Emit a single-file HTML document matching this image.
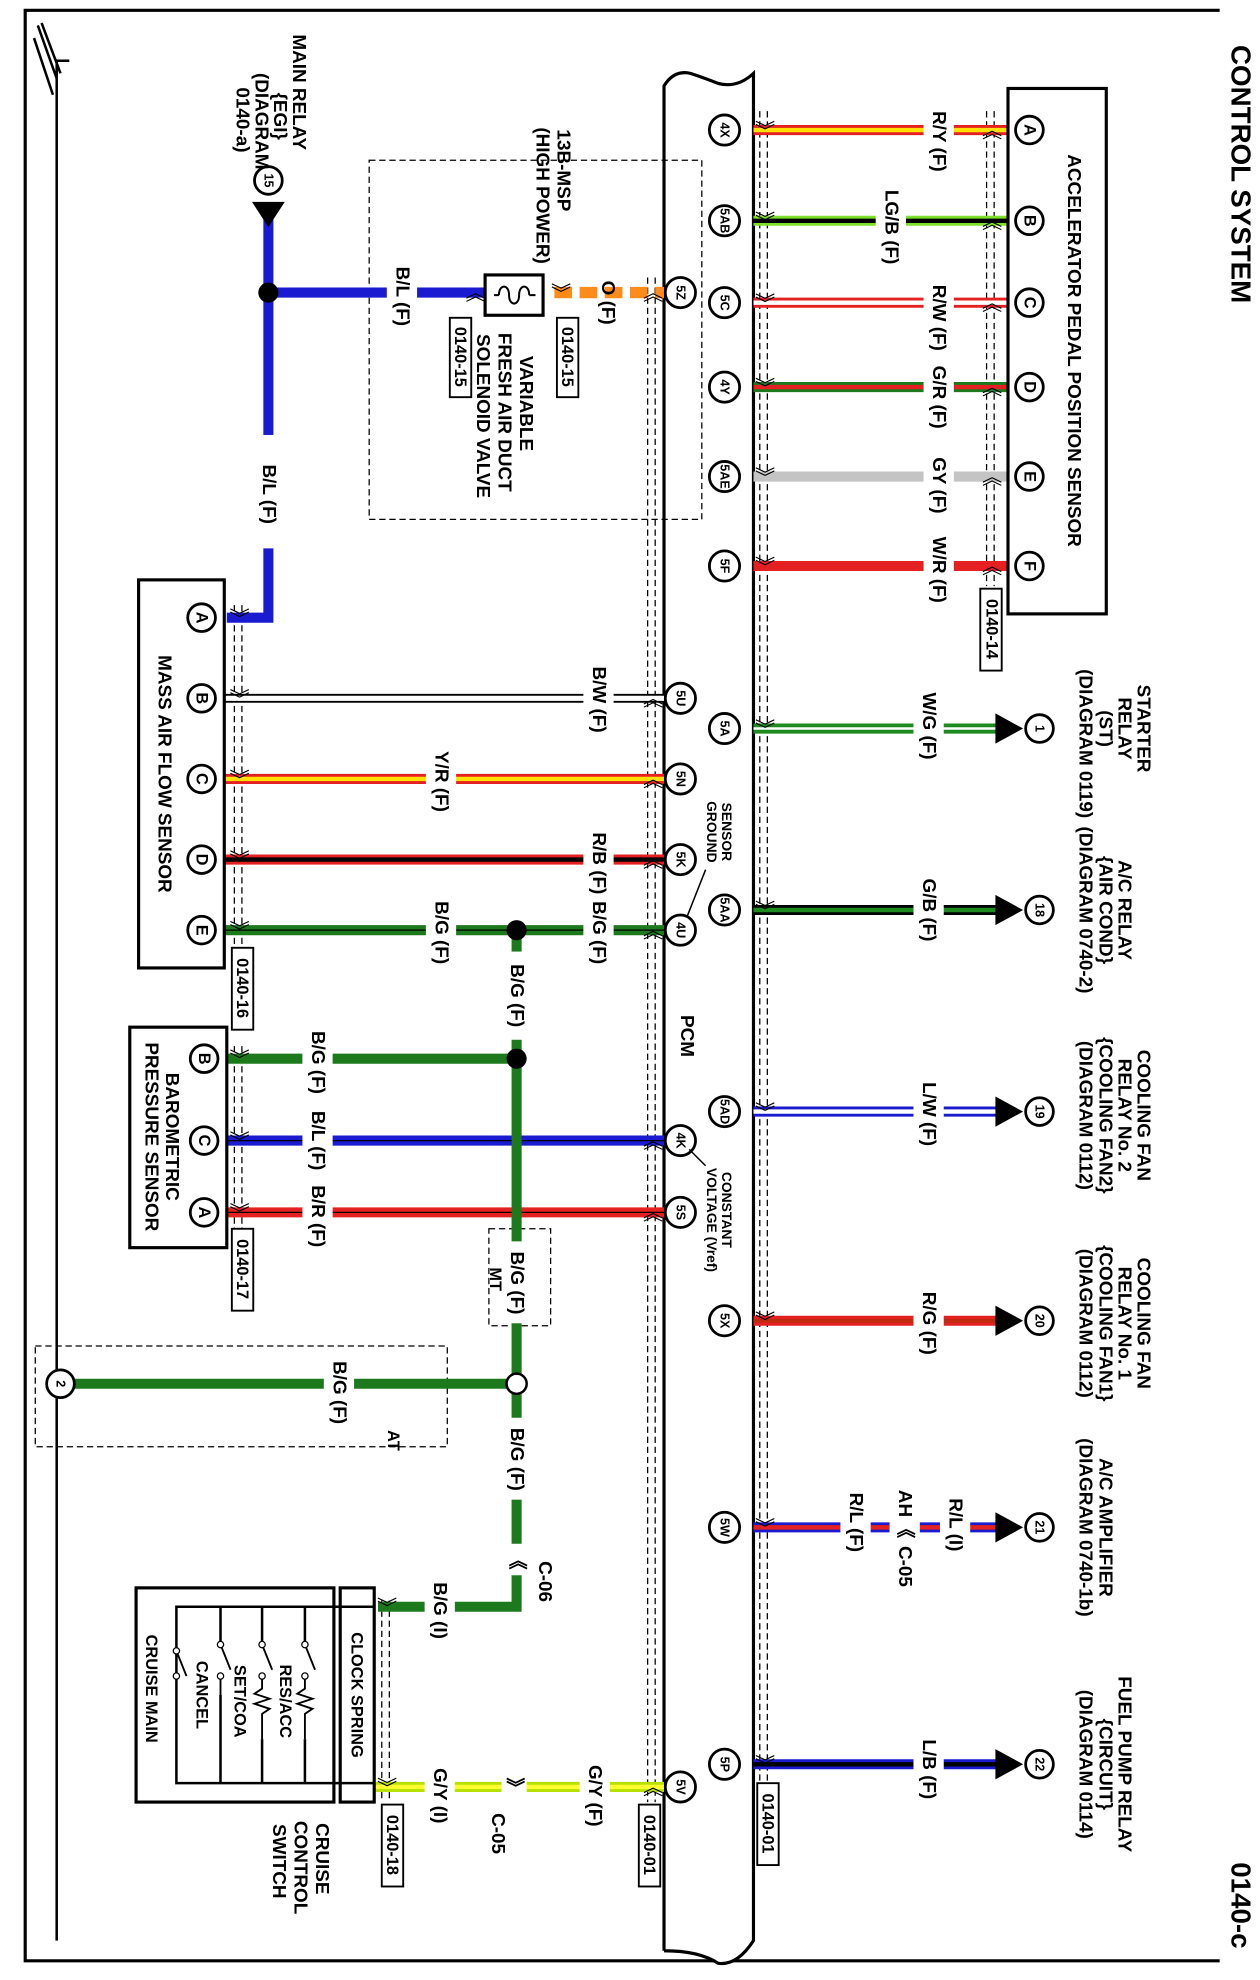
<!DOCTYPE html>
<html><head><meta charset="utf-8"><style>
html,body{margin:0;padding:0;background:#fff}
svg{display:block}
text{font-family:"Liberation Sans",Arial,sans-serif;font-weight:bold;fill:#000}
.t{font-size:15px;text-anchor:middle;dominant-baseline:central}
.s{font-size:13px;text-anchor:middle;dominant-baseline:central}
.p{font-size:10px;text-anchor:middle;dominant-baseline:central}
.pc{fill:#fff;stroke:#000;stroke-width:2.2}
.dash{fill:none;stroke:#000;stroke-width:1;stroke-dasharray:5,3}
.ch{font-size:16px;text-anchor:middle;dominant-baseline:central;font-weight:normal}
</style></head><body>
<svg width="1260" height="1980" viewBox="0 0 1000 1571" xmlns="http://www.w3.org/2000/svg">
<rect x="0" y="0" width="1000" height="1571" fill="#fff"/>
<path d="M968 8 H20 V1556 H968" fill="none" stroke="#000" stroke-width="2.5"/>
<text transform="translate(985,138) rotate(90)" style="font-size:22px;text-anchor:middle;dominant-baseline:central">CONTROL SYSTEM</text>
<text transform="translate(985,1512) rotate(90)" style="font-size:22px;text-anchor:middle;dominant-baseline:central">0140-c</text>
<path d="M45 1540 V48 H55" fill="none" stroke="#000" stroke-width="2"/>
<path d="M30 20 L45 62 M27 30 L42 75 M33 18 L48 58" fill="none" stroke="#000" stroke-width="2"/>

<path d="M527 1548 V68 Q535 55 548 58 Q560 62 570 66 Q585 70 598 58 V1540 Q585 1560 570 1558 Q555 1548 527 1548" fill="#fff" stroke="#000" stroke-width="2.5"/>
<text transform="translate(545,822) rotate(90)" class="t">PCM</text>
<path d="M603 88 V1430 M609 88 V1430" class="dash"/>
<path d="M783 88 V465 M789 88 V465" class="dash"/>
<path d="M514 220 V1430 M520 220 V1430" class="dash"/>
<path d="M186 480 V750 M192 480 V750" class="dash"/>
<path d="M186 830 V975 M192 830 V975" class="dash"/>
<path d="M303 1270 V1430 M309 1270 V1430" class="dash"/>

<rect x="293" y="127" width="264" height="285" class="dash"/>
<rect x="28" y="1068" width="327" height="80" class="dash"/>
<rect x="388" y="975" width="49" height="77" class="dash"/>

<g stroke-linecap="butt">
<line x1="598" y1="103" x2="805" y2="103" stroke="#e52020" stroke-width="8"/><line x1="598" y1="103" x2="805" y2="103" stroke="#ffe000" stroke-width="3.5"/>
<line x1="598" y1="175" x2="805" y2="175" stroke="#7de02a" stroke-width="8"/><line x1="598" y1="175" x2="805" y2="175" stroke="#000" stroke-width="3.5"/>
<line x1="598" y1="240" x2="805" y2="240" stroke="#e52020" stroke-width="8"/><line x1="598" y1="240" x2="805" y2="240" stroke="#fff" stroke-width="3.5"/>
<line x1="598" y1="307" x2="805" y2="307" stroke="#1c7a1c" stroke-width="8"/><line x1="598" y1="307" x2="805" y2="307" stroke="#e52020" stroke-width="3.5"/>
<line x1="598" y1="378" x2="805" y2="378" stroke="#c4c4c4" stroke-width="8"/>
<line x1="598" y1="449" x2="805" y2="449" stroke="#e52020" stroke-width="8"/>
<line x1="598" y1="578" x2="795" y2="578" stroke="#1c8a1c" stroke-width="8"/><line x1="598" y1="578" x2="795" y2="578" stroke="#fff" stroke-width="2"/>
<line x1="598" y1="722" x2="795" y2="722" stroke="#000" stroke-width="8"/><line x1="598" y1="722" x2="795" y2="722" stroke="#1c8a1c" stroke-width="3.5"/>
<line x1="598" y1="882" x2="795" y2="882" stroke="#1a1ad0" stroke-width="8"/><line x1="598" y1="882" x2="795" y2="882" stroke="#fff" stroke-width="3.5"/>
<line x1="598" y1="1048" x2="795" y2="1048" stroke="#e52020" stroke-width="8"/><line x1="598" y1="1048" x2="795" y2="1048" stroke="#c02a10" stroke-width="3"/>
<line x1="598" y1="1212" x2="795" y2="1212" stroke="#1a1ad0" stroke-width="8"/><line x1="598" y1="1212" x2="795" y2="1212" stroke="#e52020" stroke-width="3.5"/>
<line x1="598" y1="1400" x2="795" y2="1400" stroke="#1a1ad0" stroke-width="8"/><line x1="598" y1="1400" x2="795" y2="1400" stroke="#000" stroke-width="3.5"/>
</g>
<g fill="#fff">
<rect x="733" y="82" width="24" height="62"/><rect x="695" y="145" width="24" height="70"/>
<rect x="733" y="222" width="24" height="60"/><rect x="733" y="285" width="24" height="60"/>
<rect x="733" y="355" width="24" height="60"/><rect x="733" y="420" width="24" height="62"/>
<rect x="725" y="545" width="24" height="62"/><rect x="725" y="692" width="24" height="62"/>
<rect x="725" y="852" width="24" height="62"/><rect x="725" y="1018" width="24" height="62"/>
<rect x="667" y="1175" width="24" height="75"/><rect x="706" y="1175" width="24" height="80"/><rect x="746" y="1175" width="24" height="75"/>
<rect x="725" y="1370" width="24" height="62"/>
</g>
<text transform="translate(745,112) rotate(90)" class="t">R/Y (F)</text>
<text transform="translate(707,180) rotate(90)" class="t">LG/B (F)</text>
<text transform="translate(745,252) rotate(90)" class="t">R/W (F)</text>
<text transform="translate(745,315) rotate(90)" class="t">G/R (F)</text>
<text transform="translate(745,385) rotate(90)" class="t">GY (F)</text>
<text transform="translate(745,452) rotate(90)" class="t">W/R (F)</text>
<text transform="translate(737,576) rotate(90)" class="t">W/G (F)</text>
<text transform="translate(737,722) rotate(90)" class="t">G/B (F)</text>
<text transform="translate(737,884) rotate(90)" class="t">L/W (F)</text>
<text transform="translate(737,1050) rotate(90)" class="t">R/G (F)</text>
<text transform="translate(758,1210) rotate(90)" class="t">R/L (I)</text>
<text transform="translate(718,1193) rotate(90)" class="t">AH</text>
<text transform="translate(718,1213) rotate(90)" class="t">《</text>
<text transform="translate(718,1243) rotate(90)" class="t">C-05</text>
<text transform="translate(679,1208) rotate(90)" class="t">R/L (F)</text>
<text transform="translate(737,1404) rotate(90)" class="t">L/B (F)</text>

<rect x="800" y="70" width="78" height="417" fill="#fff" stroke="#000" stroke-width="2.5"/>
<text transform="translate(852,278) rotate(90)" class="t">ACCELERATOR PEDAL POSITION SENSOR</text>
<g>
<circle cx="817" cy="103" r="11" class="pc"/><text transform="translate(817,103) rotate(90)" class="s">A</text>
<circle cx="817" cy="175" r="11" class="pc"/><text transform="translate(817,175) rotate(90)" class="s">B</text>
<circle cx="817" cy="240" r="11" class="pc"/><text transform="translate(817,240) rotate(90)" class="s">C</text>
<circle cx="817" cy="307" r="11" class="pc"/><text transform="translate(817,307) rotate(90)" class="s">D</text>
<circle cx="817" cy="378" r="11" class="pc"/><text transform="translate(817,378) rotate(90)" class="s">E</text>
<circle cx="817" cy="449" r="11" class="pc"/><text transform="translate(817,449) rotate(90)" class="s">F</text>
</g>
<rect x="778" y="467" width="17" height="65" fill="#fff" stroke="#000" stroke-width="1.5"/>
<text transform="translate(787,499) rotate(90)" class="s">0140-14</text>

<g>
<path d="M790 566 L812 578 L790 590 Z"/><circle cx="825" cy="578" r="11" class="pc"/><text transform="translate(825,578) rotate(90)" class="p">1</text>
<path d="M790 710 L812 722 L790 734 Z"/><circle cx="825" cy="722" r="11" class="pc"/><text transform="translate(825,722) rotate(90)" class="p">18</text>
<path d="M790 870 L812 882 L790 894 Z"/><circle cx="825" cy="882" r="11" class="pc"/><text transform="translate(825,882) rotate(90)" class="p">19</text>
<path d="M790 1036 L812 1048 L790 1060 Z"/><circle cx="825" cy="1048" r="11" class="pc"/><text transform="translate(825,1048) rotate(90)" class="p">20</text>
<path d="M790 1200 L812 1212 L790 1224 Z"/><circle cx="825" cy="1212" r="11" class="pc"/><text transform="translate(825,1212) rotate(90)" class="p">21</text>
<path d="M790 1388 L812 1400 L790 1412 Z"/><circle cx="825" cy="1400" r="11" class="pc"/><text transform="translate(825,1400) rotate(90)" class="p">22</text>
</g>
<text transform="translate(907,578) rotate(90)" class="t">STARTER</text>
<text transform="translate(892,578) rotate(90)" class="t">RELAY</text>
<text transform="translate(877,578) rotate(90)" class="t">(ST)</text>
<text transform="translate(861,590) rotate(90)" class="t">(DIAGRAM 0119)</text>
<text transform="translate(892,722) rotate(90)" class="t">A/C RELAY</text>
<text transform="translate(877,722) rotate(90)" class="t">{AIR COND}</text>
<text transform="translate(861,722) rotate(90)" class="t">(DIAGRAM 0740-2)</text>
<text transform="translate(907,885) rotate(90)" class="t">COOLING FAN</text>
<text transform="translate(892,885) rotate(90)" class="t">RELAY No. 2</text>
<text transform="translate(877,885) rotate(90)" class="t">{COOLING FAN2}</text>
<text transform="translate(861,885) rotate(90)" class="t">(DIAGRAM 0112)</text>
<text transform="translate(907,1050) rotate(90)" class="t">COOLING FAN</text>
<text transform="translate(892,1050) rotate(90)" class="t">RELAY No. 1</text>
<text transform="translate(877,1050) rotate(90)" class="t">{COOLING FAN1}</text>
<text transform="translate(861,1050) rotate(90)" class="t">(DIAGRAM 0112)</text>
<text transform="translate(877,1212) rotate(90)" class="t">A/C AMPLIFIER</text>
<text transform="translate(861,1212) rotate(90)" class="t">(DIAGRAM 0740-1b)</text>
<text transform="translate(892,1400) rotate(90)" class="t">FUEL PUMP RELAY</text>
<text transform="translate(877,1400) rotate(90)" class="t">{CIRCUIT}</text>
<text transform="translate(861,1400) rotate(90)" class="t">(DIAGRAM 0114)</text>

<g stroke-linecap="butt">
<line x1="440" y1="232" x2="527" y2="232" stroke="#ff8c1a" stroke-width="9" stroke-dasharray="14,6"/>
<path d="M213 172 V490 H180" fill="none" stroke="#1a1ad0" stroke-width="8"/>
<line x1="213" y1="232" x2="385" y2="232" stroke="#1a1ad0" stroke-width="8"/>
<line x1="178" y1="554" x2="527" y2="554" stroke="#000" stroke-width="7"/><line x1="178" y1="554" x2="527" y2="554" stroke="#fff" stroke-width="4"/>
<line x1="178" y1="618" x2="527" y2="618" stroke="#e52020" stroke-width="8"/><line x1="178" y1="618" x2="527" y2="618" stroke="#ffe000" stroke-width="3.5"/>
<line x1="178" y1="682" x2="527" y2="682" stroke="#e52020" stroke-width="8"/><line x1="178" y1="682" x2="527" y2="682" stroke="#000" stroke-width="3.5"/>
<line x1="178" y1="738" x2="527" y2="738" stroke="#1c7a1c" stroke-width="8"/><line x1="178" y1="738" x2="527" y2="738" stroke="#000" stroke-width="1"/>
<line x1="180" y1="840" x2="410" y2="840" stroke="#1c7a1c" stroke-width="8"/>
<line x1="180" y1="905" x2="527" y2="905" stroke="#1a1ad0" stroke-width="8"/><line x1="180" y1="905" x2="527" y2="905" stroke="#000" stroke-width="1"/>
<line x1="180" y1="962" x2="527" y2="962" stroke="#e52020" stroke-width="8"/><line x1="180" y1="962" x2="527" y2="962" stroke="#000" stroke-width="1"/>
<path d="M410 738 V1275 H300" fill="none" stroke="#1c7a1c" stroke-width="8"/>
<line x1="48" y1="1098" x2="410" y2="1098" stroke="#1c7a1c" stroke-width="8"/>
<line x1="297" y1="1418" x2="527" y2="1418" stroke="#b5e000" stroke-width="8"/><line x1="297" y1="1418" x2="527" y2="1418" stroke="#ffff30" stroke-width="3.5"/>
</g>
<g fill="#fff">
<rect x="307" y="205" width="24" height="60"/><rect x="201" y="345" width="24" height="90"/>
<rect x="463" y="525" width="24" height="60"/><rect x="338" y="590" width="24" height="60"/>
<rect x="463" y="655" width="24" height="60"/><rect x="338" y="710" width="24" height="60"/>
<rect x="463" y="710" width="24" height="60"/><rect x="398" y="755" width="24" height="70"/>
<rect x="240" y="812" width="24" height="60"/><rect x="240" y="875" width="24" height="60"/>
<rect x="240" y="935" width="24" height="60"/><rect x="398" y="985" width="24" height="65"/>
<rect x="257" y="1070" width="24" height="60"/><rect x="398" y="1125" width="24" height="65"/>
<rect x="337" y="1247" width="24" height="60"/><rect x="337" y="1390" width="24" height="60"/>
<rect x="460" y="1390" width="24" height="60"/><rect x="398" y="1405" width="20" height="25"/>
<rect x="400" y="1225" width="20" height="25"/>
</g>
<text transform="translate(319,235) rotate(90)" class="t">B/L (F)</text>
<text transform="translate(213,392) rotate(90)" class="t">B/L (F)</text>
<text transform="translate(475,555) rotate(90)" class="t">B/W (F)</text>
<text transform="translate(350,620) rotate(90)" class="t">Y/R (F)</text>
<text transform="translate(475,685) rotate(90)" class="t">R/B (F)</text>
<text transform="translate(350,740) rotate(90)" class="t">B/G (F)</text>
<text transform="translate(475,740) rotate(90)" class="t">B/G (F)</text>
<text transform="translate(410,790) rotate(90)" class="t">B/G (F)</text>
<text transform="translate(252,843) rotate(90)" class="t">B/G (F)</text>
<text transform="translate(252,905) rotate(90)" class="t">B/L (F)</text>
<text transform="translate(252,965) rotate(90)" class="t">B/R (F)</text>
<text transform="translate(410,1018) rotate(90)" class="t">B/G (F)</text>
<text transform="translate(393,1015) rotate(90)" class="s">MT</text>
<text transform="translate(269,1105) rotate(90)" class="t">B/G (F)</text>
<text transform="translate(312,1143) rotate(90)" class="s">AT</text>
<text transform="translate(410,1158) rotate(90)" class="t">B/G (F)</text>
<text transform="translate(410,1238) rotate(90)" class="t">《</text>
<text transform="translate(432,1255) rotate(90)" class="t">C-06</text>
<text transform="translate(349,1278) rotate(90)" class="t">B/G (I)</text>
<text transform="translate(349,1425) rotate(90)" class="t">G/Y (I)</text>
<text transform="translate(408,1418) rotate(90)" class="t">》</text>
<text transform="translate(395,1455) rotate(90)" class="t">C-05</text>
<text transform="translate(472,1425) rotate(90)" class="t">G/Y (F)</text>

<!-- connector chevrons -->
<g class="ch">
<text transform="translate(606,103) rotate(90)" class="ch">》</text><text transform="translate(606,175) rotate(90)" class="ch">》</text>
<text transform="translate(606,240) rotate(90)" class="ch">》</text><text transform="translate(606,307) rotate(90)" class="ch">》</text>
<text transform="translate(606,378) rotate(90)" class="ch">》</text><text transform="translate(606,449) rotate(90)" class="ch">》</text>
<text transform="translate(606,578) rotate(90)" class="ch">》</text><text transform="translate(606,722) rotate(90)" class="ch">》</text>
<text transform="translate(606,882) rotate(90)" class="ch">》</text><text transform="translate(606,1048) rotate(90)" class="ch">》</text>
<text transform="translate(606,1212) rotate(90)" class="ch">》</text><text transform="translate(606,1400) rotate(90)" class="ch">》</text>
<text transform="translate(786,103) rotate(90)" class="ch">《</text><text transform="translate(786,175) rotate(90)" class="ch">《</text>
<text transform="translate(786,240) rotate(90)" class="ch">《</text><text transform="translate(786,307) rotate(90)" class="ch">《</text>
<text transform="translate(786,378) rotate(90)" class="ch">《</text><text transform="translate(786,449) rotate(90)" class="ch">《</text>
<text transform="translate(517,232) rotate(90)" class="ch">《</text><text transform="translate(517,554) rotate(90)" class="ch">《</text>
<text transform="translate(517,618) rotate(90)" class="ch">《</text><text transform="translate(517,682) rotate(90)" class="ch">《</text>
<text transform="translate(517,738) rotate(90)" class="ch">《</text><text transform="translate(517,905) rotate(90)" class="ch">《</text>
<text transform="translate(517,962) rotate(90)" class="ch">《</text><text transform="translate(517,1418) rotate(90)" class="ch">《</text>
<text transform="translate(189,490) rotate(90)" class="ch">》</text><text transform="translate(189,554) rotate(90)" class="ch">》</text>
<text transform="translate(189,618) rotate(90)" class="ch">》</text><text transform="translate(189,682) rotate(90)" class="ch">》</text>
<text transform="translate(189,738) rotate(90)" class="ch">》</text><text transform="translate(189,840) rotate(90)" class="ch">》</text>
<text transform="translate(189,905) rotate(90)" class="ch">》</text><text transform="translate(189,962) rotate(90)" class="ch">》</text>
<text transform="translate(306,1275) rotate(90)" class="ch">》</text><text transform="translate(306,1418) rotate(90)" class="ch">》</text>
<text transform="translate(376,232) rotate(90)" class="ch">《</text><text transform="translate(444,232) rotate(90)" class="ch">》</text>
</g>

<circle cx="213" cy="232" r="8"/>
<circle cx="410" cy="738" r="8"/>
<circle cx="410" cy="840" r="8"/>
<circle cx="410" cy="1098" r="8" fill="#fff" stroke="#000" stroke-width="2"/>
<circle cx="48" cy="1098" r="11" class="pc"/><text transform="translate(48,1098) rotate(90)" class="p">2</text>

<path d="M200 160 L226 160 L213 180 Z"/>
<circle cx="213" cy="143" r="11" class="pc"/><text transform="translate(213,143) rotate(90)" class="p">15</text>
<text transform="translate(237,73) rotate(90)" class="t">MAIN RELAY</text>
<text transform="translate(222,92) rotate(90)" class="t">{EGI}</text>
<text transform="translate(207,96) rotate(90)" class="t">(DIAGRAM</text>
<text transform="translate(192,95) rotate(90)" class="t">0140-a)</text>

<rect x="385" y="218" width="46" height="32" fill="#fff" stroke="#000" stroke-width="2.5"/>
<path d="M396 234 c0 -9 8 -9 8 0 c0 9 8 9 8 0 c0 -9 8 -9 8 0" fill="none" stroke="#000" stroke-width="1.6"/>
<path d="M392 234 h4 M420 234 h5" stroke="#000" stroke-width="1.6"/>
<text transform="translate(447,135) rotate(90)" class="t">13B-MSP</text>
<text transform="translate(430,155) rotate(90)" class="t">(HIGH POWER)</text>
<text transform="translate(417,320) rotate(90)" class="t">VARIABLE</text>
<text transform="translate(400,327) rotate(90)" class="t">FRESH AIR DUCT</text>
<text transform="translate(383,330) rotate(90)" class="t">SOLENOID VALVE</text>
<text transform="translate(482,240) rotate(90)" class="t">O (F)</text>
<rect x="442" y="252" width="17" height="63" fill="#fff" stroke="#000" stroke-width="1.5"/>
<text transform="translate(450,283) rotate(90)" class="s">0140-15</text>
<rect x="357" y="252" width="17" height="63" fill="#fff" stroke="#000" stroke-width="1.5"/>
<text transform="translate(365,283) rotate(90)" class="s">0140-15</text>

<rect x="110" y="460" width="68" height="308" fill="#fff" stroke="#000" stroke-width="2.5"/>
<text transform="translate(130,614) rotate(90)" class="t">MASS AIR FLOW SENSOR</text>
<circle cx="160" cy="490" r="11" class="pc"/><text transform="translate(160,490) rotate(90)" class="s">A</text>
<circle cx="160" cy="554" r="11" class="pc"/><text transform="translate(160,554) rotate(90)" class="s">B</text>
<circle cx="160" cy="618" r="11" class="pc"/><text transform="translate(160,618) rotate(90)" class="s">C</text>
<circle cx="160" cy="682" r="11" class="pc"/><text transform="translate(160,682) rotate(90)" class="s">D</text>
<circle cx="160" cy="738" r="11" class="pc"/><text transform="translate(160,738) rotate(90)" class="s">E</text>
<rect x="184" y="752" width="17" height="65" fill="#fff" stroke="#000" stroke-width="1.5"/>
<text transform="translate(192,784) rotate(90)" class="s">0140-16</text>

<rect x="103" y="815" width="77" height="175" fill="#fff" stroke="#000" stroke-width="2.5"/>
<text transform="translate(136,902) rotate(90)" class="t">BAROMETRIC</text>
<text transform="translate(120,902) rotate(90)" class="t">PRESSURE SENSOR</text>
<circle cx="162" cy="840" r="11" class="pc"/><text transform="translate(162,840) rotate(90)" class="s">B</text>
<circle cx="162" cy="905" r="11" class="pc"/><text transform="translate(162,905) rotate(90)" class="s">C</text>
<circle cx="162" cy="962" r="11" class="pc"/><text transform="translate(162,962) rotate(90)" class="s">A</text>
<rect x="184" y="975" width="17" height="65" fill="#fff" stroke="#000" stroke-width="1.5"/>
<text transform="translate(192,1007) rotate(90)" class="s">0140-17</text>

<rect x="108" y="1260" width="157" height="170" fill="#fff" stroke="#000" stroke-width="2.5"/>
<rect x="270" y="1260" width="27" height="170" fill="#fff" stroke="#000" stroke-width="2.5"/>
<text transform="translate(283,1345) rotate(90)" class="s">CLOCK SPRING</text>
<path d="M297 1275 H140 V1415 H297 M242 1275 V1305 M208 1275 V1305 M175 1275 V1305 M242 1415 V1380 M208 1415 V1380 M175 1415 V1345" fill="none" stroke="#000" stroke-width="2"/>
<path d="M242 1305 L250 1325 M208 1305 L216 1325 M175 1305 L183 1325 M140 1310 L148 1330" stroke="#000" stroke-width="1.5"/>
<path d="M242 1330 V1340 l-6 4 l12 4 l-12 4 l12 4 l-6 4 V1380 M208 1330 V1340 l-6 4 l12 4 l-12 4 l12 4 l-6 4 V1380 M175 1330 V1345" fill="none" stroke="#000" stroke-width="1.5"/>
<g fill="#fff" stroke="#000" stroke-width="1"><circle cx="242" cy="1305" r="2.5"/><circle cx="242" cy="1330" r="2.5"/><circle cx="208" cy="1305" r="2.5"/><circle cx="208" cy="1330" r="2.5"/><circle cx="175" cy="1305" r="2.5"/><circle cx="175" cy="1330" r="2.5"/><circle cx="140" cy="1310" r="2.5"/><circle cx="140" cy="1330" r="2.5"/></g>
<text transform="translate(226,1350) rotate(90)" class="s">RES/ACC</text>
<text transform="translate(190,1350) rotate(90)" class="s">SET/COA</text>
<text transform="translate(160,1345) rotate(90)" class="s">CANCEL</text>
<text transform="translate(120,1340) rotate(90)" class="s">CRUISE MAIN</text>
<text transform="translate(255,1475) rotate(90)" class="t">CRUISE</text>
<text transform="translate(238,1482) rotate(90)" class="t">CONTROL</text>
<text transform="translate(221,1477) rotate(90)" class="t">SWITCH</text>
<rect x="303" y="1432" width="17" height="65" fill="#fff" stroke="#000" stroke-width="1.5"/>
<text transform="translate(311,1464) rotate(90)" class="s">0140-18</text>
<rect x="507" y="1432" width="17" height="65" fill="#fff" stroke="#000" stroke-width="1.5"/>
<text transform="translate(515,1464) rotate(90)" class="s">0140-01</text>
<rect x="601" y="1415" width="17" height="65" fill="#fff" stroke="#000" stroke-width="1.5"/>
<text transform="translate(609,1447) rotate(90)" class="s">0140-01</text>

<g>
<circle cx="575" cy="103" r="12" class="pc"/><text transform="translate(575,103) rotate(90)" class="p">4X</text>
<circle cx="575" cy="175" r="12" class="pc"/><text transform="translate(575,175) rotate(90)" class="p">5AB</text>
<circle cx="575" cy="240" r="12" class="pc"/><text transform="translate(575,240) rotate(90)" class="p">5C</text>
<circle cx="575" cy="307" r="12" class="pc"/><text transform="translate(575,307) rotate(90)" class="p">4Y</text>
<circle cx="575" cy="378" r="12" class="pc"/><text transform="translate(575,378) rotate(90)" class="p">5AE</text>
<circle cx="575" cy="449" r="12" class="pc"/><text transform="translate(575,449) rotate(90)" class="p">5F</text>
<circle cx="575" cy="578" r="12" class="pc"/><text transform="translate(575,578) rotate(90)" class="p">5A</text>
<circle cx="575" cy="722" r="12" class="pc"/><text transform="translate(575,722) rotate(90)" class="p">5AA</text>
<circle cx="575" cy="882" r="12" class="pc"/><text transform="translate(575,882) rotate(90)" class="p">5AD</text>
<circle cx="575" cy="1048" r="12" class="pc"/><text transform="translate(575,1048) rotate(90)" class="p">5X</text>
<circle cx="575" cy="1212" r="12" class="pc"/><text transform="translate(575,1212) rotate(90)" class="p">5W</text>
<circle cx="575" cy="1400" r="12" class="pc"/><text transform="translate(575,1400) rotate(90)" class="p">5P</text>
<circle cx="540" cy="232" r="12" class="pc"/><text transform="translate(540,232) rotate(90)" class="p">5Z</text>
<circle cx="540" cy="554" r="12" class="pc"/><text transform="translate(540,554) rotate(90)" class="p">5U</text>
<circle cx="540" cy="618" r="12" class="pc"/><text transform="translate(540,618) rotate(90)" class="p">5N</text>
<circle cx="540" cy="682" r="12" class="pc"/><text transform="translate(540,682) rotate(90)" class="p">5K</text>
<circle cx="540" cy="738" r="12" class="pc"/><text transform="translate(540,738) rotate(90)" class="p">4U</text>
<circle cx="540" cy="905" r="12" class="pc"/><text transform="translate(540,905) rotate(90)" class="p">4K</text>
<circle cx="540" cy="962" r="12" class="pc"/><text transform="translate(540,962) rotate(90)" class="p">5S</text>
<circle cx="540" cy="1418" r="12" class="pc"/><text transform="translate(540,1418) rotate(90)" class="p">5V</text>
</g>
<text transform="translate(577,660) rotate(90)" style="font-size:11px;text-anchor:middle;dominant-baseline:central">SENSOR</text>
<text transform="translate(565,660) rotate(90)" style="font-size:11px;text-anchor:middle;dominant-baseline:central">GROUND</text>
<path d="M560 690 L545 728" stroke="#000" stroke-width="1.2"/>
<text transform="translate(577,960) rotate(90)" style="font-size:11px;text-anchor:middle;dominant-baseline:central">CONSTANT</text>
<text transform="translate(565,968) rotate(90)" style="font-size:11px;text-anchor:middle;dominant-baseline:central">VOLTAGE (Vref)</text>
<path d="M560 925 L547 912" stroke="#000" stroke-width="1.2"/>
</svg>
</body></html>
